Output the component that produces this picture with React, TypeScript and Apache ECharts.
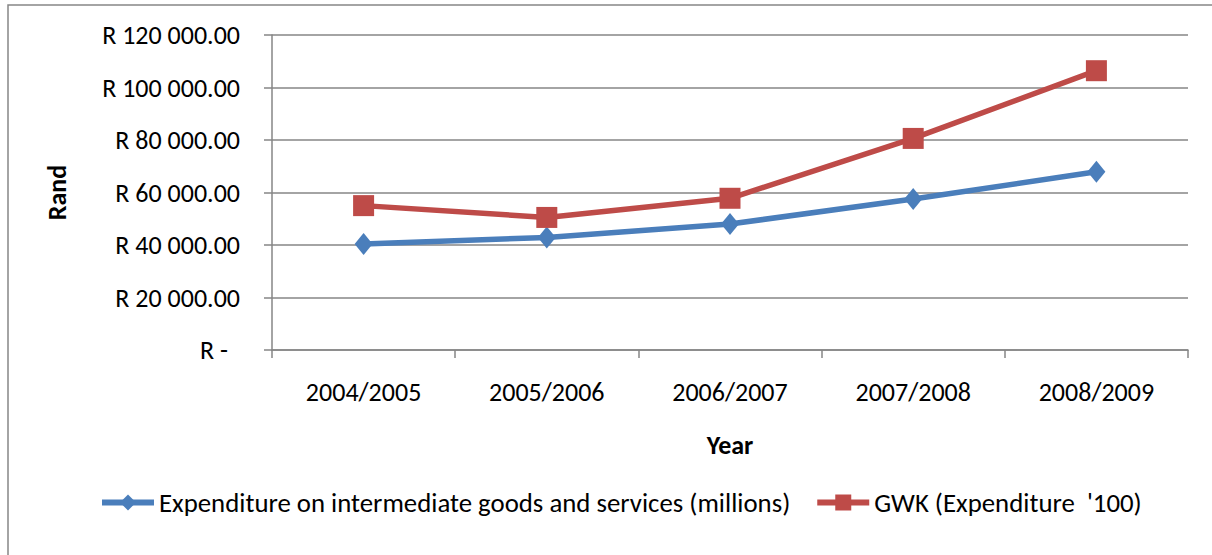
import React, { useEffect, useRef } from "react";
import * as echarts from "echarts";

const categories = ["2004/2005", "2005/2006", "2006/2007", "2007/2008", "2008/2009"];
const expenditure = [40400, 42900, 48000, 57500, 67900];
const gwk = [55000, 50500, 57800, 80600, 106400];
const seriesNames = [
  "Expenditure on intermediate goods and services (millions)",
  "GWK (Expenditure  '100)",
];

const FONT = "Carlito, Calibri, Lato, sans-serif";
const FS = 26;

function fmt(v: number): string {
  if (v === 0) return "{z|R -}";
  const s = String(Math.round(v)).replace(/\B(?=(\d{3})+(?!\d))/g, " ");
  return "R " + s + ".00";
}

export default function App() {
  const ref = useRef<HTMLDivElement>(null);
  useEffect(() => {
    document.body.style.margin = "0";
    const chart = echarts.init(ref.current!, undefined, { renderer: "svg" });
    const gray = "#868686";
    const blue = "#4A7EBB";
    const red = "#BE4B48";
    chart.setOption({
      animation: false,
      textStyle: { fontFamily: FONT },
      graphic: [
        {
          type: "rect",
          shape: { x: 8, y: 5, width: 1240, height: 600 },
          style: { fill: "none", stroke: gray, lineWidth: 1.5 },
          silent: true,
        },
      ],
      grid: { left: 272, right: 24, top: 35, bottom: 205 },
      legend: {
        left: 94,
        top: 484,
        itemWidth: 52,
        itemHeight: 20,
        itemGap: 24,
        textStyle: { fontFamily: FONT, fontSize: 26.8, color: "#000" },
        data: [
          { name: seriesNames[0], lineStyle: { width: 6, color: blue }, itemStyle: { color: blue } },
          { name: seriesNames[1], lineStyle: { width: 6, color: red }, itemStyle: { color: red } },
        ],
      },
      xAxis: {
        type: "category",
        data: categories,
        boundaryGap: true,
        name: "Year",
        nameLocation: "middle",
        nameGap: 82,
        nameTextStyle: { fontFamily: FONT, fontSize: FS, fontWeight: "bold", color: "#000" },
        axisLine: { show: true, lineStyle: { color: gray, width: 1.5 } },
        axisTick: { show: true, length: 8, interval: 0, lineStyle: { color: gray, width: 1.5 } },
        axisLabel: { margin: 29, fontSize: FS, color: "#000", fontFamily: FONT, interval: 0 },
        splitLine: { show: false },
      },
      yAxis: {
        type: "value",
        min: 0,
        max: 120000,
        interval: 20000,
        name: "Rand",
        nameLocation: "middle",
        nameGap: 202,
        nameRotate: 90,
        nameTextStyle: { fontFamily: FONT, fontSize: FS, fontWeight: "bold", color: "#000" },
        axisLine: { show: true, lineStyle: { color: gray, width: 1.5 } },
        axisTick: { show: true, length: 8, lineStyle: { color: gray, width: 1.5 } },
        axisLabel: {
          margin: 32,
          fontSize: FS,
          color: "#000",
          fontFamily: FONT,
          formatter: fmt,
          rich: { z: { fontSize: FS, fontFamily: FONT, color: "#000", padding: [0, 12, 0, 0] } },
        },
        splitLine: { show: true, lineStyle: { color: gray, width: 1.5 } },
      },
      series: [
        {
          name: seriesNames[0],
          type: "line",
          data: expenditure,
          symbol: "diamond",
          symbolSize: [18, 22],
          lineStyle: { color: blue, width: 5.5 },
          itemStyle: { color: blue },
        },
        {
          name: seriesNames[1],
          type: "line",
          data: gwk,
          symbol: "rect",
          symbolSize: 21,
          lineStyle: { color: red, width: 5.5 },
          itemStyle: { color: red },
        },
      ],
    });
    return () => chart.dispose();
  }, []);
  return <div ref={ref} style={{ width: 1212, height: 555 }} />;
}
